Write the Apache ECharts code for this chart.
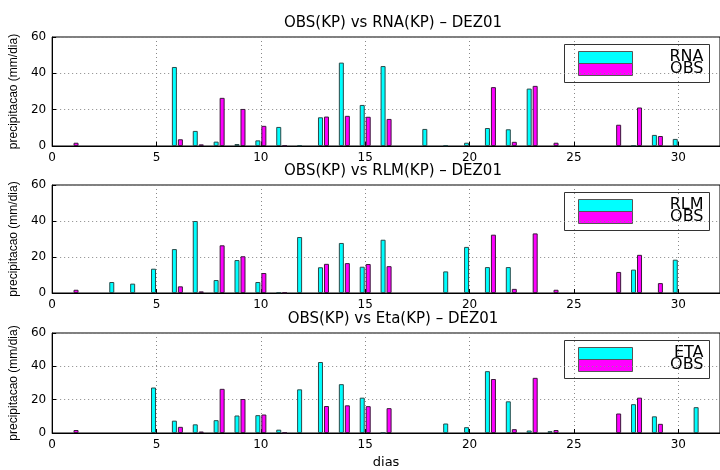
<!DOCTYPE html>
<html>
<head>
<meta charset="utf-8">
<script src="https://cdn.jsdelivr.net/npm/echarts@6/dist/echarts.min.js"></script>
<style>
  html, body { margin: 0; padding: 0; background: #fff; }
  #chart { width: 720px; height: 470px; }
</style>
</head>
<body>
<div id="chart"></div>
<script>
// dias de dezembro 2001
const days = [1, 2, 3, 4, 5, 6, 7, 8, 9, 10, 11, 12, 13, 14, 15, 16, 17, 18, 19, 20, 21, 22, 23, 24, 25, 26, 27, 28, 29, 30, 31];

const obs = [1.8, 0, 0, 0, 0, 3.7, 0.9, 26.5, 20.4, 11.1, 0.3, 0, 16.2, 16.6, 16.1, 14.9, 0, 0, 0, 0, 32.4, 2.3, 33.1, 1.8, 0, 0, 11.7, 21.2, 5.5, 0, 0];
const rna = [0, 0, 0, 0, 0, 43.5, 8.3, 2.4, 1.1, 3.1, 10.5, 0.4, 15.8, 45.9, 22.6, 44.0, 0, 9.4, 0.4, 1.8, 9.9, 9.2, 31.6, 0, 0, 0, 0, 0.4, 6.1, 3.9, 0];
const rlm = [0, 0, 6.1, 5.2, 13.5, 24.4, 40.0, 7.2, 18.3, 6.1, 0.4, 31.1, 14.3, 27.8, 14.6, 29.6, 0, 0, 12.0, 25.6, 14.4, 14.4, 0, 0, 0, 0, 0, 13.0, 0, 18.5, 0];
const eta = [0, 0, 0, 0, 27.3, 7.4, 5.2, 7.7, 10.5, 10.7, 2.0, 26.2, 42.6, 29.3, 21.2, 0.2, 0, 0, 5.7, 3.5, 37.1, 19.0, 1.5, 1.1, 0, 0, 0, 17.3, 10.0, 0, 15.5];

const titles = ['OBS(KP) vs RNA(KP) \u2013 DEZ01', 'OBS(KP) vs RLM(KP) \u2013 DEZ01', 'OBS(KP) vs Eta(KP) \u2013 DEZ01'];
const modelNames = ['RNA', 'RLM', 'ETA'];
const models = [rna, rlm, eta];
const yTicks = [0, 20, 40, 60];
const xTicks = [0, 5, 10, 15, 20, 25, 30];

const chart = echarts.init(document.getElementById('chart'), null, { renderer: 'canvas' });

const gridTops = [37, 185, 333];
const gridHeights = [109, 108, 109];
const CYAN = '#00ffff';
const MAGENTA = '#ff00ff';
const FONT = 'DejaVu Sans';

function toPairs(arr) {
    return days.map((d, i) => [d, arr[i]]).filter(p => p[1] > 0);
}

const grids = [], xAxes = [], yAxes = [], series = [], titleList = [], graphics = [];

gridTops.forEach((top, i) => {
    grids.push({
        left: 52, right: -5, top: top, height: gridHeights[i],
        show: true, borderColor: '#000', borderWidth: 1, backgroundColor: 'transparent'
    });

    xAxes.push({
        type: 'value', gridIndex: i, min: 0, max: 32, interval: 5,
        axisLine: { show: true, lineStyle: { color: '#000', width: 1 } },
        axisTick: { show: true, inside: true, length: 4, lineStyle: { color: '#000' } },
        axisLabel: {
            color: '#000', fontFamily: FONT, fontSize: 12, margin: 6, showMaxLabel: false,
            formatter: v => (xTicks.indexOf(v) >= 0 ? String(v) : '')
        },
        splitLine: { show: true, lineStyle: { color: '#888', type: [1, 3], width: 1 } },
        name: i === 2 ? 'dias' : '',
        nameLocation: 'middle', nameGap: 23,
        nameTextStyle: { color: '#000', fontFamily: FONT, fontSize: 13 }
    });

    yAxes.push({
        type: 'value', gridIndex: i, min: 0, max: 60, interval: 20,
        axisLine: { show: true, lineStyle: { color: '#000', width: 1 } },
        axisTick: { show: true, inside: true, length: 4, lineStyle: { color: '#000' } },
        axisLabel: {
            color: '#000', fontFamily: FONT, fontSize: 12, margin: 6,
            formatter: v => (yTicks.indexOf(v) >= 0 ? String(v) : '')
        },
        splitLine: { show: true, lineStyle: { color: '#888', type: [1, 3], width: 1 } },
        name: 'precipitacao (mm/dia)',
        nameLocation: 'middle', nameGap: 24,
        nameTextStyle: { color: '#000', fontFamily: 'Liberation Sans', fontSize: 12 }
    });

    series.push({
        name: modelNames[i], type: 'bar', xAxisIndex: i, yAxisIndex: i,
        data: toPairs(models[i]), barWidth: 5, barGap: '20%',
        itemStyle: { color: CYAN, borderColor: '#2a4a4a', borderWidth: 1 }
    });
    series.push({
        name: 'OBS', type: 'bar', xAxisIndex: i, yAxisIndex: i,
        data: toPairs(obs), barWidth: 5, barGap: '20%',
        itemStyle: { color: MAGENTA, borderColor: '#3a1a3a', borderWidth: 1 }
    });

    titleList.push({
        text: titles[i], left: 388, top: top - 26, textAlign: 'center',
        textStyle: { color: '#000', fontFamily: FONT, fontSize: 15, fontWeight: 'normal' }
    });

    // legenda estilo matlab
    graphics.push({
        type: 'group', left: 564, top: top + 7,
        children: [
            { type: 'rect', shape: { x: 0, y: 0, width: 145, height: 38 }, style: { fill: '#fff', stroke: '#333', lineWidth: 1 } },
            { type: 'rect', shape: { x: 14, y: 7, width: 54, height: 12 }, style: { fill: CYAN, stroke: '#555', lineWidth: 1 } },
            { type: 'rect', shape: { x: 14, y: 19, width: 54, height: 12 }, style: { fill: MAGENTA, stroke: '#555', lineWidth: 1 } },
            { type: 'text', x: 139, y: 20, style: { text: modelNames[i], fill: '#000', font: '16px "DejaVu Sans"', align: 'right', verticalAlign: 'bottom' } },
            { type: 'text', x: 139, y: 32, style: { text: 'OBS', fill: '#000', font: '16px "DejaVu Sans"', align: 'right', verticalAlign: 'bottom' } }
        ]
    });
});

chart.setOption({
    animation: false,
    backgroundColor: '#fff',
    title: titleList,
    grid: grids,
    xAxis: xAxes,
    yAxis: yAxes,
    series: series,
    graphic: graphics
});
</script>
</body>
</html>
